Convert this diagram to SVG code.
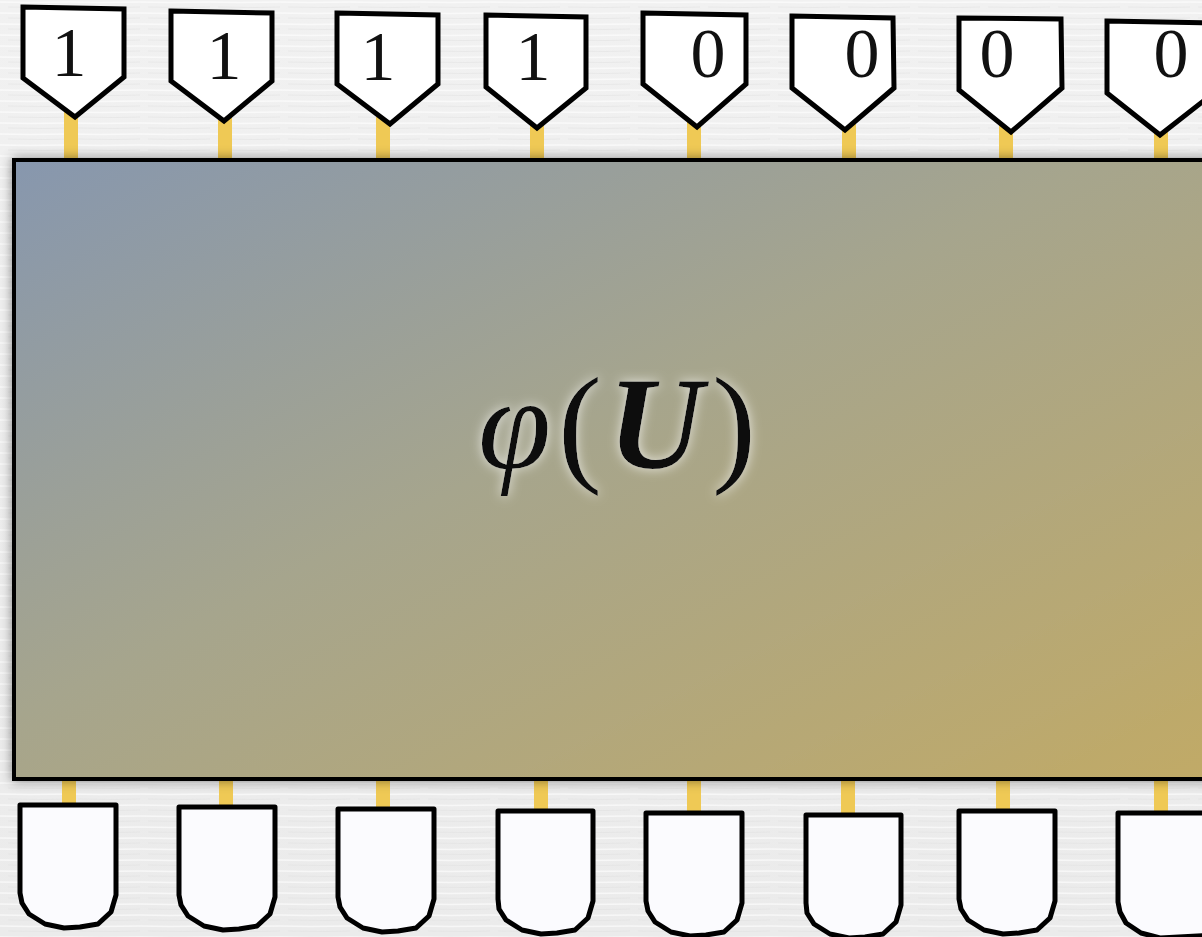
<svg xmlns="http://www.w3.org/2000/svg" width="1202" height="937" viewBox="0 0 1202 937">
<defs>
<linearGradient id="boxg" x1="0" y1="0" x2="1" y2="1">
<stop offset="0" stop-color="#8797ae"/>
<stop offset="0.45" stop-color="#a6a58d"/>
<stop offset="1" stop-color="#c1aa66"/>
</linearGradient>
<linearGradient id="bg" x1="0" y1="0" x2="0" y2="1">
<stop offset="0" stop-color="#f1f1f1"/>
<stop offset="1" stop-color="#ebebeb"/>
</linearGradient>
<pattern id="tex" width="70" height="11" patternUnits="userSpaceOnUse">
<path d="M0 2 L30 2.6 L70 1.9" stroke="#ffffff" stroke-width="1.5" fill="none" opacity="0.6"/>
<path d="M8 7 L45 7.5 L70 7" stroke="#dedede" stroke-width="1" fill="none" opacity="0.45"/>
</pattern>
<filter id="shadow" x="-10%" y="-10%" width="120%" height="120%">
<feDropShadow dx="0" dy="0" stdDeviation="6" flood-color="#000" flood-opacity="0.45"/>
</filter>
<filter id="glow" x="-20%" y="-20%" width="140%" height="140%">
<feGaussianBlur in="SourceAlpha" stdDeviation="6" result="b"/>
<feFlood flood-color="#ffffff" flood-opacity="0.75"/>
<feComposite in2="b" operator="in" result="g"/>
<feMerge><feMergeNode in="g"/><feMergeNode in="SourceGraphic"/></feMerge>
</filter>
<style>
.wire{stroke:#efc955;stroke-width:14;fill:none}
.tag{fill:#ffffff;stroke:#000;stroke-width:5;stroke-linejoin:miter}
.cup{fill:#fbfbfe;stroke:#000;stroke-width:5;stroke-linejoin:round}
.lbl{font-family:"Liberation Serif","DejaVu Serif",serif;font-size:70px;fill:#111;text-anchor:middle}
.math{font-family:"Liberation Serif","DejaVu Serif",serif;font-size:132px;fill:#111}
</style>
</defs>
<rect width="1202" height="937" fill="url(#bg)"/>
<rect width="1202" height="937" fill="url(#tex)"/>

<g id="connectors">
<line class="wire" x1="71" y1="110" x2="71" y2="162"/>
<line class="wire" x1="225" y1="114" x2="225" y2="162"/>
<line class="wire" x1="383" y1="117" x2="383" y2="162"/>
<line class="wire" x1="537" y1="121" x2="537" y2="162"/>
<line class="wire" x1="694" y1="120" x2="694" y2="162"/>
<line class="wire" x1="849" y1="123" x2="849" y2="162"/>
<line class="wire" x1="1006" y1="125" x2="1006" y2="162"/>
<line class="wire" x1="1161" y1="128" x2="1161" y2="162"/>
<line class="wire" x1="69" y1="777" x2="69" y2="806"/>
<line class="wire" x1="226" y1="777" x2="226" y2="808"/>
<line class="wire" x1="383" y1="777" x2="383" y2="810"/>
<line class="wire" x1="541" y1="777" x2="541" y2="812"/>
<line class="wire" x1="694" y1="777" x2="694" y2="814"/>
<line class="wire" x1="848" y1="777" x2="848" y2="816"/>
<line class="wire" x1="1003" y1="777" x2="1003" y2="813"/>
<line class="wire" x1="1161" y1="777" x2="1161" y2="815"/>
</g>

<g id="box">
<rect x="14" y="160" width="1200" height="619" fill="url(#boxg)" stroke="#000" stroke-width="4" filter="url(#shadow)"/>
<text class="math" filter="url(#glow)" y="468"><tspan x="478" font-style="italic">φ</tspan><tspan x="558">(</tspan><tspan x="608" font-style="italic" font-weight="bold">U</tspan><tspan x="712">)</tspan></text>
</g>

<g id="in1"><polygon class="tag" points="23,7 124,9 124,77 75,117 23,78"/><text class="lbl" x="69" y="76">1</text></g>
<g id="in2"><polygon class="tag" points="171,11 272,13 272,81 224,121 171,81"/><text class="lbl" x="224" y="79">1</text></g>
<g id="in3"><polygon class="tag" points="337,13 438,15 438,84 390,124 337,84"/><text class="lbl" x="378" y="80">1</text></g>
<g id="in4"><polygon class="tag" points="486,15 586,17 586,88 537,128 486,87"/><text class="lbl" x="533" y="80">1</text></g>
<g id="in5"><polygon class="tag" points="643,13 746,15 746,84 697,127 643,84"/><text class="lbl" x="708" y="77">0</text></g>
<g id="in6"><polygon class="tag" points="792,16 893,18 894,88 845,130 792,88"/><text class="lbl" x="862" y="77">0</text></g>
<g id="in7"><polygon class="tag" points="959,18 1061,19 1062,88 1011,132 959,90"/><text class="lbl" x="997" y="77">0</text></g>
<g id="in8"><polygon class="tag" points="1107,21 1215,23 1215,92 1160,135 1107,93"/><text class="lbl" x="1171" y="77">0</text></g>

<g id="out1"><path class="cup" d="M20,805 L116,805 L116,895 L111,912 L98,924 L80,927 L64,928 L45,924 L29,914 L22,903 L20,893 Z"/></g>
<g id="out2"><path class="cup" d="M179,807 L275,807 L275,897 L270,914 L257,926 L239,929 L223,930 L204,926 L188,916 L181,905 L179,895 Z"/></g>
<g id="out3"><path class="cup" d="M338,809 L434,809 L434,899 L429,916 L416,928 L398,931 L382,932 L363,928 L347,918 L340,907 L338,897 Z"/></g>
<g id="out4"><path class="cup" d="M498,811 L593,811 L593,901 L588,918 L575,930 L557,933 L541,934 L522,930 L506,920 L499,909 L498,899 Z"/></g>
<g id="out5"><path class="cup" d="M646,813 L742,813 L742,903 L737,920 L724,932 L706,935 L690,936 L671,932 L655,922 L648,911 L646,901 Z"/></g>
<g id="out6"><path class="cup" d="M806,815 L901,815 L901,905 L896,922 L883,934 L865,937 L849,938 L830,934 L814,924 L807,913 L806,903 Z"/></g>
<g id="out7"><path class="cup" d="M959,811 L1055,811 L1055,901 L1050,918 L1037,930 L1019,933 L1003,934 L984,930 L968,920 L961,909 L959,899 Z"/></g>
<g id="out8"><path class="cup" d="M1118,813 L1215,813 L1215,935 L1160,938 L1141,933 L1126,923 L1120,912 L1118,902 Z"/></g>
</svg>
